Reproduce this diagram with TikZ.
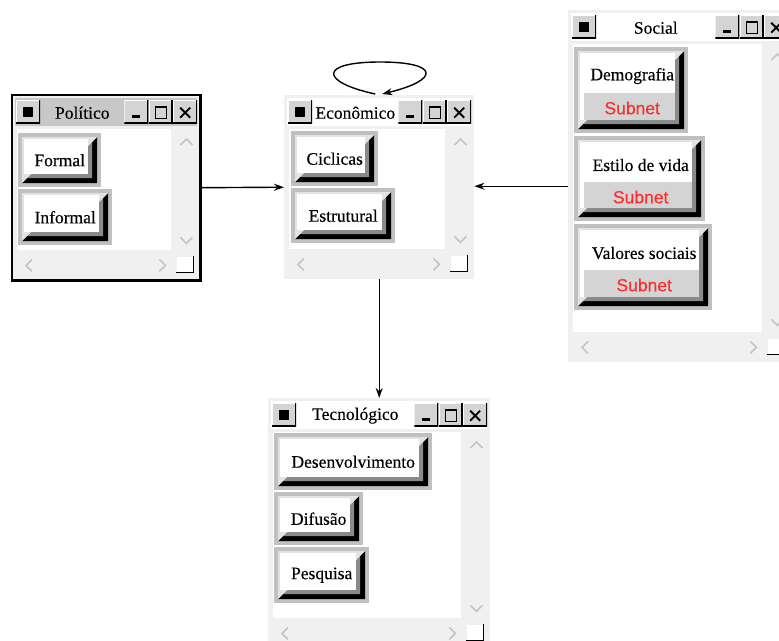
\documentclass[tikz,border=0pt]{standalone}
\usepackage{fontspec}
\setmainfont{Liberation Serif}[FakeBold=0.3]
\newfontfamily\subnetfont{Liberation Sans}[FakeBold=0.2]
\usetikzlibrary{arrows.meta,calc}

\definecolor{winbg}{HTML}{F0F0F0}
\definecolor{activebar}{HTML}{C8C8C8}
\definecolor{framegrey}{HTML}{C0C0C0}
\definecolor{btnlight}{HTML}{E3E3E3}
\definecolor{btndark}{HTML}{8A8A8A}
\definecolor{btnface}{HTML}{D4D4D4}
\definecolor{chevgrey}{HTML}{C4C4C4}
\definecolor{subnetred}{HTML}{FF2A2A}

% 3-D bevel of a button, drawn inside its grey selection frame
\newcommand\bevelparts{%
  \coordinate (bnw) at ([shift={(4pt,-4pt)}]path picture bounding box.north west);
  \coordinate (bse) at ([shift={(-4pt,4pt)}]path picture bounding box.south east);
  \coordinate (bne) at (bse |- bnw);
  \coordinate (bsw) at (bnw |- bse);
  \fill[btnlight] (bnw) rectangle (bse);
  \fill[white] ([shift={(2pt,-2pt)}]bnw) rectangle ([shift={(-9pt,9pt)}]bse);
  \fill[black] (bne) -- (bse) -- (bsw) -- ([shift={(5pt,5pt)}]bsw)
    -- ([shift={(-5pt,5pt)}]bse) -- ([shift={(-5pt,-5pt)}]bne) -- cycle;
  \fill[btndark] ([shift={(-5pt,-5pt)}]bne) -- ([shift={(-5pt,5pt)}]bse)
    -- ([shift={(5pt,5pt)}]bsw) -- ([shift={(9pt,9pt)}]bsw)
    -- ([shift={(-9pt,9pt)}]bse) -- ([shift={(-9pt,-9pt)}]bne) -- cycle;
  \coordinate (fnw) at ([shift={(6pt,-6pt)}]bnw);
  \coordinate (fse) at ([shift={(-9pt,9pt)}]bse);
}

% title bar, window buttons, client area and scroll bars of a window node
\newcommand\windowparts[3]{%
  \fill[#3] ([shift={(3pt,-3pt)}]#1.north west) rectangle ([shift={(-3pt,-31pt)}]#1.north east);
  \node[ctlbtn, anchor=north west] (#1-menu) at ([shift={(4pt,-5pt)}]#1.north west) {};
  \fill ([shift={(-5pt,-5pt)}]#1-menu.center) rectangle ([shift={(5pt,5pt)}]#1-menu.center);
  \node[ctlbtn, anchor=north east] (#1-close) at ([shift={(-3pt,-5pt)}]#1.north east) {};
  \node[ctlbtn, anchor=north east] (#1-max) at (#1-close.north west) {};
  \node[ctlbtn, anchor=north east] (#1-min) at (#1-max.north west) {};
  \fill ([shift={(-4pt,-3.5pt)}]#1-min.center) rectangle ([shift={(4pt,-6.5pt)}]#1-min.center);
  \draw[line width=1.3pt] ([shift={(-5.5pt,4.5pt)}]#1-max.center) rectangle ([shift={(5.5pt,-6.5pt)}]#1-max.center);
  \draw[line width=2.4pt] ([shift={(-6.1pt,4.5pt)}]#1-max.center) -- ([shift={(6.1pt,4.5pt)}]#1-max.center);
  \draw[line width=1.8pt] ([shift={(-5pt,4pt)}]#1-close.center) -- ([shift={(5pt,-6pt)}]#1-close.center)
    ([shift={(-5pt,-6pt)}]#1-close.center) -- ([shift={(5pt,4pt)}]#1-close.center);
  \node[titletext] (#1-title) at ($(#1-menu.east)!0.5!(#1-min.west)+(0,1)$) {#2};
  \fill[white] ([shift={(5pt,-34pt)}]#1.north west) rectangle ([shift={(-29pt,30pt)}]#1.south east);
  \draw[chev] ([shift={(-20pt,-50pt)}]#1.north east) -- ++(6pt,6pt) -- ++(6pt,-6pt);
  \draw[chev] ([shift={(-20pt,43pt)}]#1.south east) -- ++(6pt,-6pt) -- ++(6pt,6pt);
  \draw[chev] ([shift={(20pt,21pt)}]#1.south west) -- ++(-6pt,-6pt) -- ++(6pt,-6pt);
  \draw[chev] ([shift={(-41pt,21pt)}]#1.south east) -- ++(6pt,-6pt) -- ++(-6pt,-6pt);
  \fill[white] ([shift={(-23pt,23pt)}]#1.south east) rectangle ([shift={(-7pt,8pt)}]#1.south east);
  \draw[line width=1.5pt] ([shift={(-24pt,8pt)}]#1.south east) -- ([shift={(-7pt,8pt)}]#1.south east)
    -- ([shift={(-7pt,24pt)}]#1.south east);
}

\tikzset{
  window/.style={rectangle, fill=winbg, inner sep=0pt, anchor=north west},
  ctlbtn/.style={rectangle, fill=btnface, inner sep=0pt, minimum width=24pt, minimum height=23pt,
    path picture={
      \draw[white, line width=2pt] (path picture bounding box.south west)
        -- (path picture bounding box.north west) -- (path picture bounding box.north east);
      \draw[black, line width=3pt] (path picture bounding box.north east)
        -- (path picture bounding box.south east) -- (path picture bounding box.south west);
    }},
  titletext/.style={font=\fontsize{17.5}{20}\selectfont, inner sep=0pt},
  btnbase/.style={rectangle, fill=framegrey, inner sep=0pt, anchor=north west,
    font=\fontsize{17.5}{20}\selectfont},
  plainbtn/.style={btnbase, path picture={\bevelparts}},
  subnetbtn/.style={btnbase, path picture={\bevelparts
      \fill[btnface] (fnw) rectangle (fse);
      \path ([yshift=-36pt]fnw) coordinate (fmid);
      \fill[white] (fnw) rectangle (fmid -| fse);}},
  btnlabel/.style={font=\fontsize{17.5}{20}\selectfont, inner sep=0pt},
  subnetlabel/.style={font=\subnetfont\fontsize{17.5}{20}\selectfont, text=subnetred, inner sep=0pt},
  chev/.style={draw=chevgrey, line width=1.6pt},
  conn/.style={draw=black, line width=1.4pt, -{Stealth[length=10pt,width=7pt]}},
}

\begin{document}
\begin{tikzpicture}[x=1pt, y=-1pt]
\fill[white] (0,0) rectangle (779,640);
\useasboundingbox (0,0) rectangle (779,640);

% windows
\node[window, minimum width=188pt, minimum height=185pt] (pol) at (12,95) {};
\windowparts{pol}{Político}{activebar}
\draw[line width=2.5pt] (pol.north west) rectangle (pol.south east);

\node[window, minimum width=190pt, minimum height=184pt] (eco) at (284,95) {};
\windowparts{eco}{Econômico}{white}

\node[window, minimum width=223pt, minimum height=352pt] (soc) at (568,10) {};
\windowparts{soc}{Social}{white}

\node[window, minimum width=222pt, minimum height=250pt] (tec) at (268,398) {};
\windowparts{tec}{Tecnológico}{white}

% Político
\node[plainbtn, minimum width=83pt, minimum height=54pt] (formal) at (18,133) {Formal};
\node[plainbtn, minimum width=94pt, minimum height=56pt] (informal) at (18,189) {Informal};

% Econômico
\node[plainbtn, minimum width=87pt, minimum height=55pt] (ciclicas) at (291,131) {Ciclicas};
\node[plainbtn, minimum width=104pt, minimum height=55pt] (estrutural) at (291,188) {Estrutural};

% Tecnológico
\node[plainbtn, minimum width=158pt, minimum height=57pt] (desenv) at (274,433) {Desenvolvimento};
\node[plainbtn, minimum width=89pt, minimum height=53pt] (difusao) at (274,492) {Difusão};
\node[plainbtn, minimum width=95pt, minimum height=56pt] (pesquisa) at (274,547) {Pesquisa};

% Social
\node[subnetbtn, minimum width=114pt, minimum height=86pt] (demo) at (574,47) {};
\node[btnlabel] (demo-t) at ([xshift=1pt,yshift=-29pt]demo.north) {Demografia};
\node[subnetlabel] (demo-s) at ([xshift=1pt,yshift=-61pt]demo.north) {Subnet};

\node[subnetbtn, minimum width=131pt, minimum height=85pt] (estilo) at (574,136) {};
\node[btnlabel] (estilo-t) at ([xshift=1pt,yshift=-29pt]estilo.north) {Estilo de vida};
\node[subnetlabel] (estilo-s) at ([xshift=1pt,yshift=-61pt]estilo.north) {Subnet};

\node[subnetbtn, minimum width=138pt, minimum height=86pt] (valores) at (574,224) {};
\node[btnlabel] (valores-t) at ([xshift=1pt,yshift=-29pt]valores.north) {Valores sociais};
\node[subnetlabel] (valores-s) at ([xshift=1pt,yshift=-61pt]valores.north) {Subnet};

% connectors
\draw[conn] (pol.east) -- (eco.west);
\draw[conn] (soc.west) -- (soc.west -| eco.east);
\draw[conn] (eco.south) -- (eco.south |- tec.north);
\draw[conn] ([xshift=-4pt,yshift=1pt]eco.north) .. controls (320,82) and (318,62) .. (380,62)
  .. controls (440,62) and (440,80) .. ([xshift=3pt,yshift=1pt]eco.north);
\end{tikzpicture}
\end{document}
